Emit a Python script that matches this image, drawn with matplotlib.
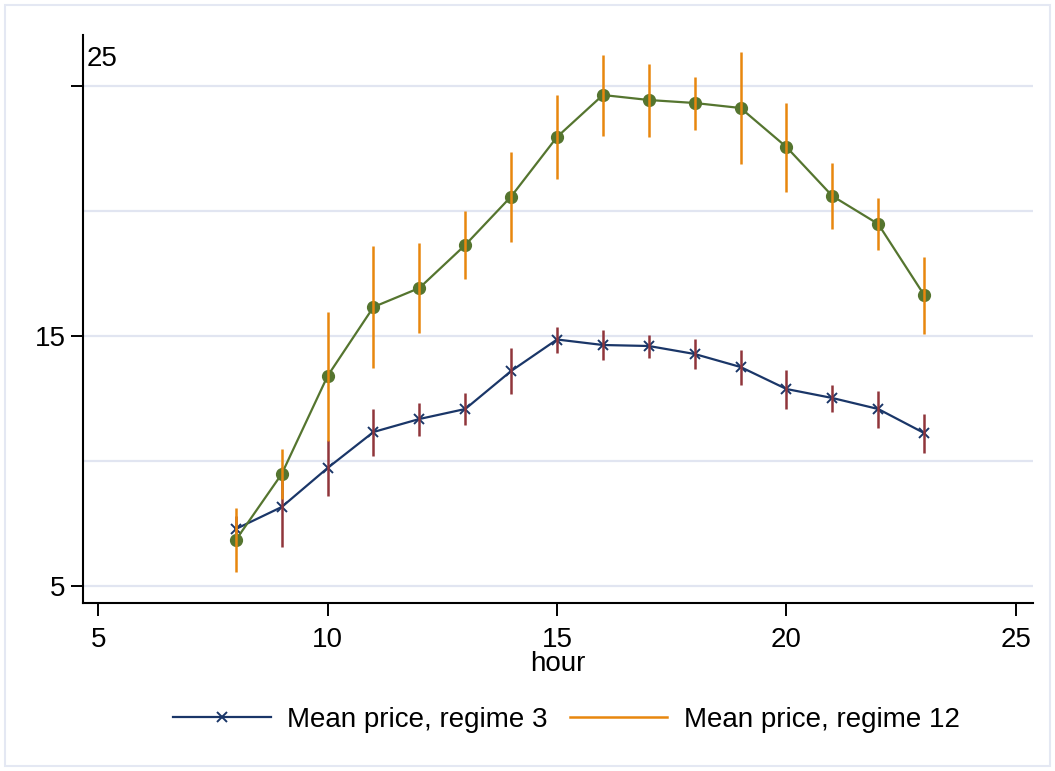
import numpy as np
import matplotlib
matplotlib.use("Agg")
import matplotlib.pyplot as plt
from matplotlib.lines import Line2D
from matplotlib.patches import Rectangle

plt.rcParams["font.family"] = ["Liberation Sans", "DejaVu Sans"]

hours = np.arange(8, 24)
# regime 3: mean price and half-width of the interval
mean_r3 = [7.28, 8.16, 9.72, 11.16, 11.68, 12.08, 13.6, 14.86, 14.64, 14.6, 14.28, 13.76, 12.88, 12.52, 12.08, 11.12]
err_r3 = [0.5, 1.6, 1.12, 0.94, 0.66, 0.64, 0.92, 0.52, 0.6, 0.46, 0.6, 0.7, 0.78, 0.54, 0.74, 0.78]
# regime 12
mean_r12 = [6.84, 9.48, 13.4, 16.16, 16.92, 18.64, 20.58, 22.96, 24.64, 24.44, 24.32, 24.12, 22.56, 20.6, 19.48, 16.64]
err_r12 = [1.28, 1.0, 2.58, 2.44, 1.8, 1.36, 1.8, 1.68, 1.62, 1.46, 1.06, 2.24, 1.78, 1.32, 1.04, 1.54]

xticks = [5, 10, 15, 20, 25]
yticks = [5, 15, 25]
grid_y = [5, 10, 15, 20, 25]

NAVY = "#1a3668"
MAROON = "#90353b"
GREEN = "#55752f"
ORANGE = "#e8870e"
GRID = "#e1e5f1"
FS = 20

fig = plt.figure(figsize=(10.55, 7.71), dpi=100)
ax = fig.add_axes([0.0787, 0.2179, 0.979 - 0.0787, 0.9546 - 0.2179])

for g in grid_y:
    ax.axhline(g, color=GRID, lw=1.6, zorder=0)

m3 = np.array(mean_r3)
e3 = np.array(err_r3)
m12 = np.array(mean_r12)
e12 = np.array(err_r12)

ax.plot(hours, m3, color=NAVY, lw=1.6, marker="x", ms=7, mew=1.4, zorder=2)
ax.vlines(hours, m3 - e3, m3 + e3, color=MAROON, lw=1.8, zorder=3)
ax.plot(hours, m12, color=GREEN, lw=1.6, marker="o", ms=8.5, zorder=4)
ax.vlines(hours, m12 - e12, m12 + e12, color=ORANGE, lw=1.8, zorder=5)

ax.set_xlim(4.67, 25.37)
ax.set_ylim(4.32, 27.04)
ax.set_xticks(xticks)
ax.set_xticklabels([str(t) for t in xticks], fontsize=FS)
ax.set_yticks(yticks)
ax.set_yticklabels(["5", "15", ""], fontsize=FS)
ax.text(0.004, 26.1, "25", fontsize=FS, va="center", ha="left",
        transform=ax.get_yaxis_transform())
ax.tick_params(axis="both", length=9, width=1.4, color="black")
ax.tick_params(axis="x", pad=8)
ax.set_xlabel("hour", fontsize=FS, labelpad=-1)

for s in ["top", "right"]:
    ax.spines[s].set_visible(False)
for s in ["left", "bottom"]:
    ax.spines[s].set_linewidth(1.5)

handles = [
    Line2D([0, 0.5, 1], [0, 0, 0], color=NAVY, lw=1.6, marker="x", ms=7, mew=1.4, markevery=[1]),
    Line2D([], [], color=ORANGE, lw=1.8),
]
fig.legend(handles, ["Mean price, regime 3", "Mean price, regime 12"],
           loc="center", bbox_to_anchor=(0.537, 0.066), ncol=2, frameon=False,
           fontsize=FS, handlelength=3.5, handletextpad=0.6, columnspacing=0.8)

fig.patches.append(Rectangle((0.005, 0.007), 0.99, 0.986, transform=fig.transFigure,
                             fill=False, edgecolor="#e4e8f3", lw=1.5))

fig.savefig("out.png", dpi=100, facecolor="white")
